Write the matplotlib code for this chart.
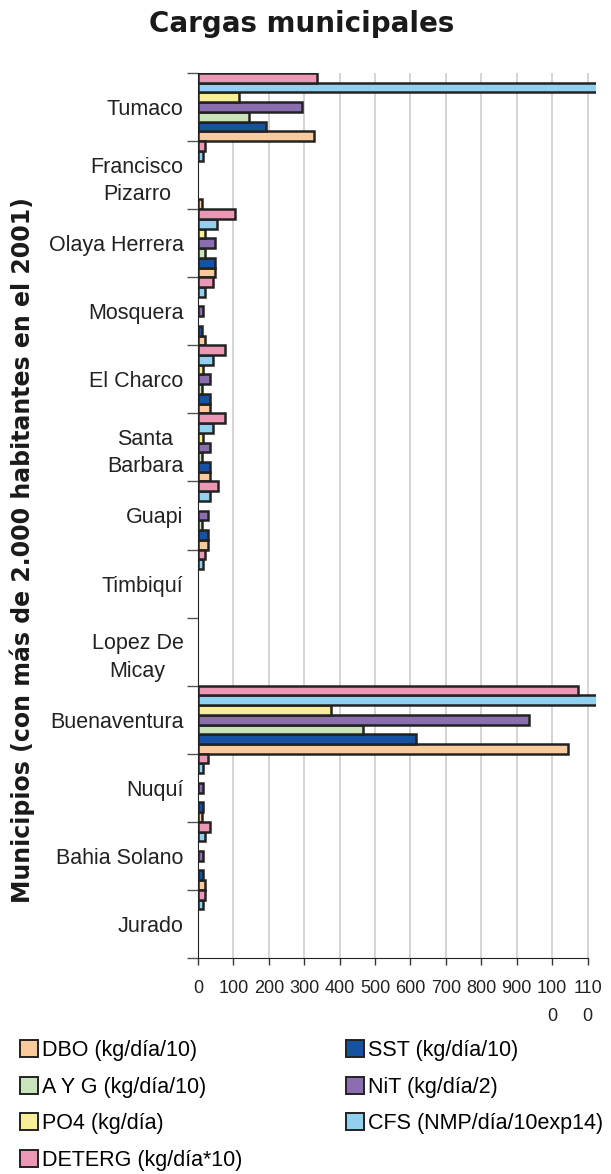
import numpy as np
import matplotlib
matplotlib.use("Agg")
from matplotlib import pyplot
from matplotlib.patches import Patch

municipios = ["Tumaco", "Francisco\nPizarro", "Olaya Herrera", "Mosquera", "El Charco",
              "Santa\nBarbara", "Guapi", "Timbiquí", "Lopez De\nMicay", "Buenaventura",
              "Nuquí", "Bahia Solano", "Jurado"]

# cargas por municipio (unidades de cada serie segun la leyenda)
dbo = [328, 12, 48, 21, 33, 33, 28, 0, 0, 1046, 12, 21, 0]
sst = [192, 0, 48, 12, 35, 35, 28, 0, 0, 617, 14, 14, 0]
ayg = [143, 0, 20, 0, 12, 12, 12, 0, 0, 465, 0, 0, 0]
nit = [294, 0, 48, 14, 35, 35, 28, 0, 0, 936, 14, 14, 0]
po4 = [116, 0, 20, 0, 14, 14, 0, 0, 0, 377, 0, 0, 0]
cfs = [1400, 14, 55, 20, 41, 41, 35, 14, 0, 1250, 14, 21, 14]
deterg = [335, 20, 104, 42, 76, 76, 57, 21, 0, 1073, 28, 35, 21]

series = [
    ("DBO (kg/día/10)", dbo, "#f9cb9c"),
    ("SST (kg/día/10)", sst, "#1552a3"),
    ("A Y G (kg/día/10)", ayg, "#c9e4bb"),
    ("NiT (kg/día/2)", nit, "#8a6eb0"),
    ("PO4 (kg/día)", po4, "#f8ee98"),
    ("CFS (NMP/día/10exp14)", cfs, "#8fd1ef"),
    ("DETERG (kg/día*10)", deterg, "#ec97b5"),
]

xticks = list(range(0, 1200, 100))
xticklabels = ["0", "100", "200", "300", "400", "500", "600", "700", "800", "900", "100\n0", "110\n0"]

pyplot.rcParams["font.family"] = ["Liberation Sans", "DejaVu Sans"]

fig = pyplot.figure(figsize=(6.11, 11.74), dpi=100)
ax = fig.add_axes([198 / 611, 1 - 958 / 1174, (596 - 198) / 611, (958 - 73) / 1174])

n = len(series)
h = 1.0 / n
idx = np.arange(len(municipios))
for k, (name, vals, color) in enumerate(series):
    # first series sits at the bottom of each band
    pos = idx + 1 - (k + 0.5) * h
    vals = np.array(vals, dtype=float)
    mask = vals > 0
    ax.barh(pos[mask], vals[mask], height=h, color=color, edgecolor="#222222",
            linewidth=1.8, zorder=3)

ax.set_xlim(0, 1124)
ax.set_ylim(len(municipios), 0)

ax.set_xticks(xticks)
ax.set_xticklabels(xticklabels, fontsize=13, color="#222222", linespacing=1.85,
                   verticalalignment="top")
ax.tick_params(axis="x", length=5, width=1, color="#333333", pad=11)
ax.xaxis.grid(True, color="#d4d4d4", linewidth=1.4, zorder=0)

ax.set_yticks(np.arange(len(municipios) + 1))
ax.set_yticklabels([])
ax.set_yticks(idx + 0.5, minor=True)
ax.set_yticklabels(municipios, minor=True, fontsize=15.5, color="#222222",
                   multialignment="center", linespacing=1.4)
ax.tick_params(axis="y", which="major", length=8, width=1, color="#555555")
ax.tick_params(axis="y", which="minor", length=0, pad=10.5)

for s in ["top", "right"]:
    ax.spines[s].set_visible(False)
ax.spines["left"].set_color("#222222")
ax.spines["bottom"].set_color("#222222")
ax.spines["bottom"].set_bounds(0, 1100)

fig.text(302 / 611, 1 - 24 / 1174, "Cargas municipales", ha="center", va="center",
         fontsize=20, fontweight="bold", family="DejaVu Sans", color="#1a1a1a")
fig.text(22 / 611, 1 - 550 / 1174, "Municipios (con más de 2.000 habitantes en el 2001)",
         ha="center", va="center", rotation=90, fontsize=17, fontweight="heavy",
         family="DejaVu Sans", color="#1a1a1a")

# legend in two columns, each placed on its own
cols = [[0, 2, 4, 6], [1, 3, 5]]
col_x = [20, 346]
for col, x0 in zip(cols, col_x):
    handles = [Patch(facecolor=series[i][2], edgecolor="#222222", linewidth=1.4) for i in col]
    labels = [series[i][0] for i in col]
    fig.legend(handles, labels, loc="upper left", bbox_to_anchor=(x0 / 611, 1 - 1040 / 1174),
               frameon=False, fontsize=15.5, handlelength=0.85, handleheight=0.85,
               handletextpad=0.15, labelspacing=0.72, borderaxespad=0, borderpad=0)

fig.savefig("out.png", dpi=100, facecolor="white")
